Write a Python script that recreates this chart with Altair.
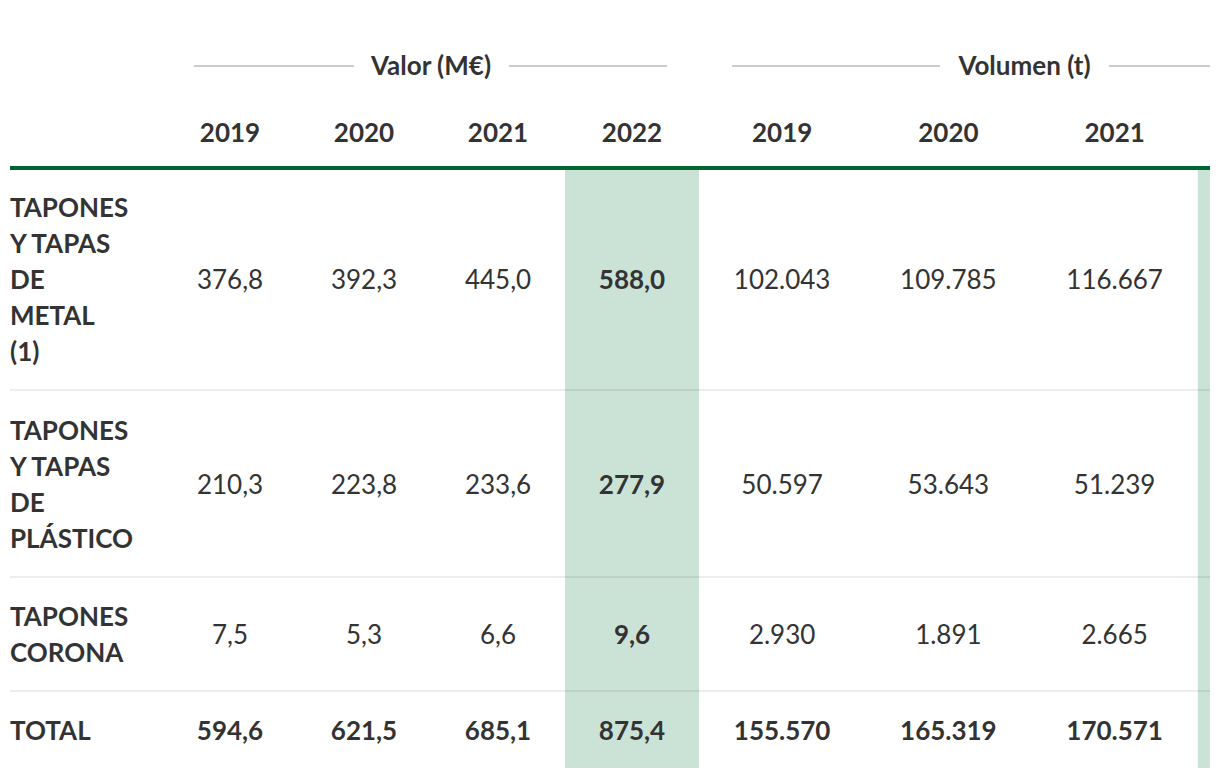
import altair as alt
import pandas as pd

# ---- data ----
row_labels = [
    "TAPONES\nY TAPAS\nDE\nMETAL\n(1)",
    "TAPONES\nY TAPAS\nDE\nPLÁSTICO",
    "TAPONES\nCORONA",
    "TOTAL",
]
groups = ["Valor (M€)", "Volumen (t)"]
years_valor = ["2019", "2020", "2021", "2022"]
years_volumen = ["2019", "2020", "2021"]

valor_metal = [376.8, 392.3, 445.0, 588.0]
valor_plastico = [210.3, 223.8, 233.6, 277.9]
valor_corona = [7.5, 5.3, 6.6, 9.6]
valor_total = [594.6, 621.5, 685.1, 875.4]

vol_metal = [102043, 109785, 116667]
vol_plastico = [50597, 53643, 51239]
vol_corona = [2930, 1891, 2665]
vol_total = [155570, 165319, 170571]

valor_rows = [valor_metal, valor_plastico, valor_corona, valor_total]
vol_rows = [vol_metal, vol_plastico, vol_corona, vol_total]

FONT = "Lato"
TXT = "#333333"
FS = 26
LH = 36
DY = 2


def fmt_valor(v):
    return f"{v:.1f}".replace(".", ",")


def fmt_vol(v):
    return f"{v:,}".replace(",", ".")


# column slots: 0 = label, 1..4 valor, 5..8 volumen ; row slots: 0 group hdr, 1 year hdr, 2..5 body
cells = []
for r, (vals, vols) in enumerate(zip(valor_rows, vol_rows)):
    total = r == len(row_labels) - 1
    for j, v in enumerate(vals):
        cells.append({"c": 1.5 + j, "r": 2.5 + r, "t": fmt_valor(v),
                      "b": total or j == len(years_valor) - 1})
    for j, v in enumerate(vols):
        cells.append({"c": 5.5 + j, "r": 2.5 + r, "t": fmt_vol(v), "b": total})
cells = pd.DataFrame(cells)

years = pd.DataFrame(
    [{"c": 1.5 + j, "r": 1.5, "t": y} for j, y in enumerate(years_valor)]
    + [{"c": 5.5 + j, "r": 1.5, "t": y} for j, y in enumerate(years_volumen)]
)

hilite = pd.DataFrame({"c": [4, 8], "c2": [5, 9], "r": [2, 2], "r2": [6, 6]})
seps = pd.DataFrame({"c": [0, 0, 0], "c2": [9, 9, 9], "r": [3, 4, 5]})
topline = pd.DataFrame({"c": [0], "c2": [9], "r": [2]})

xs = alt.Scale(domain=[0, 1, 5, 9], range=[2, 155, 691, 1356], nice=False, zero=False)
ys = alt.Scale(domain=[0, 1, 2, 3, 4, 5, 6], range=[28, 88, 160, 382, 569, 683, 760],
               nice=False, zero=False)

X = lambda f="c": alt.X(f"{f}:Q", scale=xs, axis=None)
Y = lambda f="r": alt.Y(f"{f}:Q", scale=ys, axis=None)

hl = alt.Chart(hilite).mark_rect(color="#cbe2d6", clip=True).encode(
    x=X(), x2="c2:Q", y=Y(), y2="r2:Q")

sep = alt.Chart(seps).mark_rule(color="#000000", opacity=0.07, strokeWidth=2, clip=True).encode(
    x=X(), x2="c2:Q", y=Y())

green = alt.Chart(topline).mark_rule(color="#00652f", strokeWidth=4, clip=True).encode(
    x=X(), x2="c2:Q", y=Y())


def hrule(c, c2, off1, off2):
    d = pd.DataFrame({"c": [c], "c2": [c2], "r": [0.5]})
    return alt.Chart(d).mark_rule(color="#cccccc", strokeWidth=2, xOffset=off1,
                                  x2Offset=off2, clip=True).encode(x=X(), x2="c2:Q", y=Y())


grp_rules = [
    hrule(1, 3, 31, -77),
    hrule(3, 5, 78, -32),
    hrule(5, 7, 33, -91.5),
    hrule(7, 9, 77.5, 0),
]

grp_valor = alt.Chart(pd.DataFrame({"c": [3], "r": [0.5], "t": [groups[0]]})).mark_text(
    font=FONT, fontSize=FS, fontWeight="bold", color=TXT, align="center", baseline="middle", dy=1
).encode(x=X(), y=Y(), text="t:N")
grp_vol = alt.Chart(pd.DataFrame({"c": [7], "r": [0.5], "t": [groups[1]]})).mark_text(
    font=FONT, fontSize=FS, fontWeight="bold", color=TXT, align="center", baseline="middle",
    dx=-7, dy=1
).encode(x=X(), y=Y(), text="t:N")

yr = alt.Chart(years).mark_text(font=FONT, fontSize=FS, fontWeight="bold", color=TXT,
                                align="center", baseline="middle", dy=DY).encode(
    x=X(), y=Y(), text="t:N")

lab_layers = []
for i, lbl in enumerate(row_labels):
    n = lbl.count("\n") + 1
    d = pd.DataFrame({"c": [0], "r": [2.5 + i], "t": [lbl]})
    lab_layers.append(
        alt.Chart(d).mark_text(font=FONT, fontSize=FS, fontWeight="bold", color=TXT,
                               align="left", baseline="middle", dx=0, dy=DY - (n - 1) * LH / 2,
                               lineBreak="\n", lineHeight=LH).encode(x=X(), y=Y(), text="t:N")
    )

reg = alt.Chart(cells[~cells["b"]]).mark_text(font=FONT, fontSize=FS, color=TXT,
                                              align="center", baseline="middle", dy=DY).encode(
    x=X(), y=Y(), text="t:N")
bold = alt.Chart(cells[cells["b"]]).mark_text(font=FONT, fontSize=FS, fontWeight="bold",
                                              color=TXT, align="center", baseline="middle",
                                              dy=DY).encode(
    x=X(), y=Y(), text="t:N")

chart = alt.layer(hl, sep, green, *grp_rules, grp_valor, grp_vol, yr, *lab_layers, reg,
                  bold).properties(
    width=1202, height=760, padding=0, autosize=alt.AutoSizeParams(type="none"),
    background="white",
).configure_view(strokeWidth=0)

chart.save("out.html", embed_options={"renderer": "svg", "actions": False})
